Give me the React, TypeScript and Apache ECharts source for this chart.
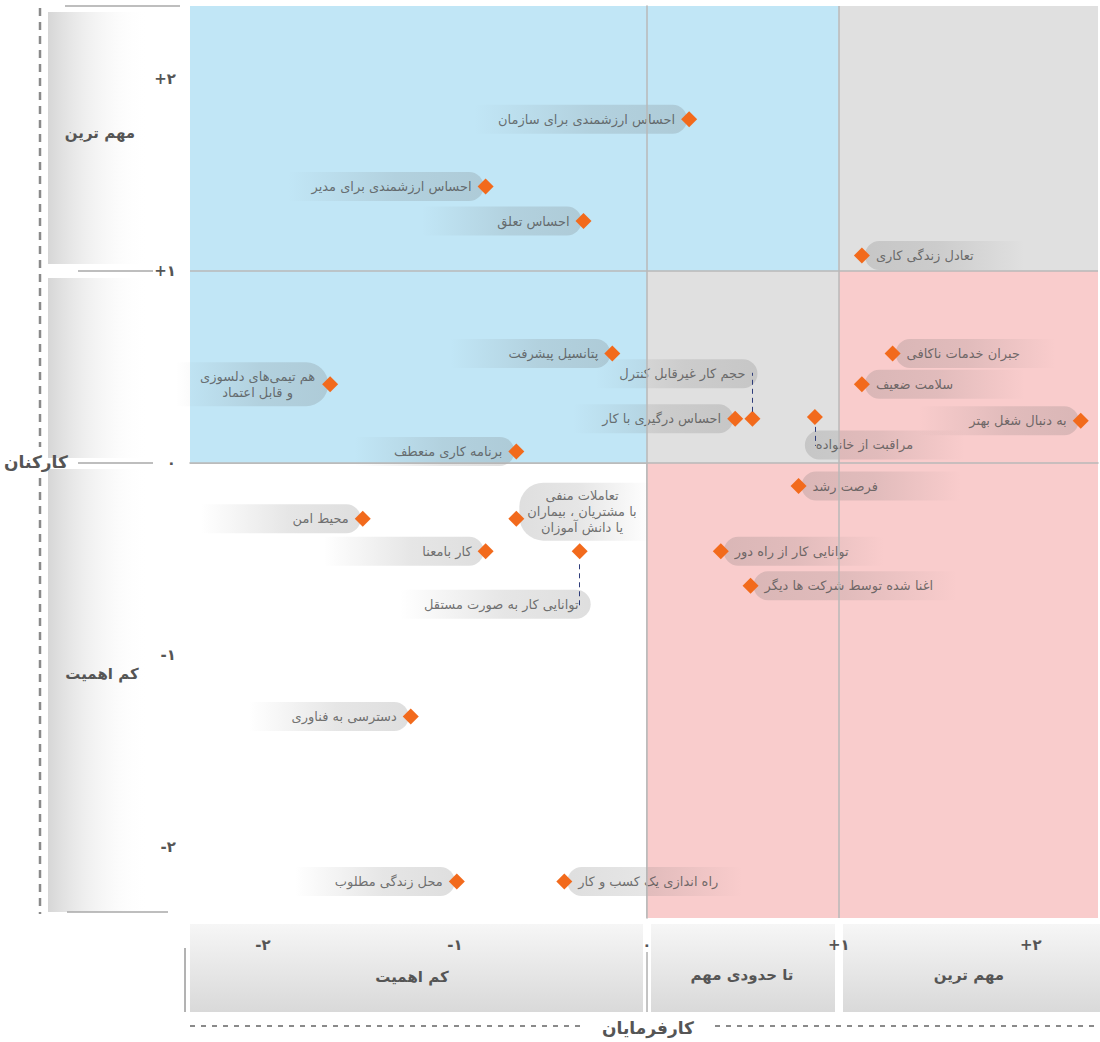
import React, { useEffect, useRef } from 'react';
import * as echarts from 'echarts';

// ---------- data ----------
const X_MIN = -2.38;
const X_MAX = 2.35;
const Y_MIN = -2.37;
const Y_MAX = 2.38;

const TICK_VALUES = [-2, -1, 0, 1, 2];
const TICK_LABELS = ['-۲', '-۱', '۰', '+۱', '+۲'];

const EMPLOYER_CATEGORIES = ['کم اهمیت', 'تا حدودی مهم', 'مهم ترین'];
const EMPLOYEE_CATEGORIES = ['مهم ترین', 'کم اهمیت'];
const X_AXIS_TITLE = 'کارفرمایان';
const Y_AXIS_TITLE = 'کارکنان';

const FACTORS = [
  'احساس ارزشمندی برای سازمان',
  'احساس ارزشمندی برای مدیر',
  'احساس تعلق',
  'تعادل زندگی کاری',
  'پتانسیل پیشرفت',
  'هم تیمی‌های دلسوزی\nو قابل اعتماد',
  'حجم کار غیرقابل کنترل',
  'احساس درگیری با کار',
  'مراقبت از خانواده',
  'جبران خدمات ناکافی',
  'سلامت ضعیف',
  'به دنبال شغل بهتر',
  'برنامه کاری منعطف',
  'فرصت رشد',
  'محیط امن',
  'تعاملات منفی\nبا مشتریان ، بیماران\nیا دانش آموزان',
  'کار بامعنا',
  'توانایی کار به صورت مستقل',
  'توانایی کار از راه دور',
  'اغنا شده توسط شرکت ها دیگر',
  'دسترسی به فناوری',
  'محل زندگی مطلوب',
  'راه اندازی یک کسب و کار',
];

// importance for employers (x)
const EMPLOYER_SCORES = [
  0.22, -0.84, -0.33, 1.12, -0.18, -1.65, 0.55, 0.46, 0.875, 1.28, 1.12, 2.26,
  -0.68, 0.79, -1.48, -0.68, -0.84, -0.35, 0.385, 0.54, -1.23, -0.99, -0.43,
];
// importance for employees (y)
const EMPLOYEE_SCORES = [
  1.79, 1.44, 1.26, 1.08, 0.57, 0.41, 0.23, 0.23, 0.24, 0.57, 0.41, 0.22,
  0.06, -0.12, -0.29, -0.29, -0.46, -0.46, -0.46, -0.64, -1.32, -2.18, -2.18,
];

// ---------- layout / style ----------
const FONT = '"DejaVu Sans", "Noto Sans", sans-serif';
const LABEL_SIZE = 13;
const TEXT_COLOR = '#505050';
const DIAMOND = '#f26a1c';
const MIN_PILL = 160;

type Layout = { side: 'L' | 'R'; dx?: number; dy?: number; link?: [number, number]; pad?: number[] };
const LABEL_LAYOUT: Record<string, Layout> = {
  'تعادل زندگی کاری': { side: 'R' },
  'مراقبت از خانواده': { side: 'R', dx: -13, dy: 28, link: [10, 29] },
  'جبران خدمات ناکافی': { side: 'R' },
  'سلامت ضعیف': { side: 'R' },
  'فرصت رشد': { side: 'R' },
  'تعاملات منفی\nبا مشتریان ، بیماران\nیا دانش آموزان': { side: 'R', dy: -7, pad: [5, 14, 5, 8] },
  'توانایی کار از راه دور': { side: 'R' },
  'اغنا شده توسط شرکت ها دیگر': { side: 'R' },
  'راه اندازی یک کسب و کار': { side: 'R' },
  'حجم کار غیرقابل کنترل': { side: 'L', dx: 7, dy: -45, link: [-7, -46] },
  'توانایی کار به صورت مستقل': { side: 'L', dx: 13, dy: 53, link: [13, 56] },
  'هم تیمی‌های دلسوزی\nو قابل اعتماد': { side: 'L', pad: [6, 13, 6, 24] },
};

const W = 1100;
const H = 1042;
const GRID = { left: 190, right: 2, top: 6, bottom: 124 };

export default function App() {
  const ref = useRef<HTMLDivElement>(null);

  useEffect(() => {
    document.body.style.margin = '0';
    const chart = echarts.init(ref.current!, null, { renderer: 'svg' });

    const ctx = document.createElement('canvas').getContext('2d')!;
    ctx.font = `${LABEL_SIZE}px ${FONT}`;
    const tw = (s: string) => ctx.measureText(s).width;

    const unitY = (H - GRID.top - GRID.bottom) / (Y_MAX - Y_MIN);
    const G = echarts.graphic.LinearGradient;
    const pillL = () =>
      new G(0, 0, 1, 0, [
        { offset: 0, color: 'rgba(105,105,105,0)' },
        { offset: 0.55, color: 'rgba(105,105,105,0.21)' },
        { offset: 1, color: 'rgba(105,105,105,0.27)' },
      ]);
    const pillR = () =>
      new G(0, 0, 1, 0, [
        { offset: 0, color: 'rgba(105,105,105,0.27)' },
        { offset: 0.45, color: 'rgba(105,105,105,0.21)' },
        { offset: 1, color: 'rgba(105,105,105,0)' },
      ]);

    const labelData = FACTORS.map((name, i) => {
      const lay = LABEL_LAYOUT[name] || { side: 'L' };
      const lines = name.split('\n');
      const multi = lines.length > 1;
      const textW = Math.max(...lines.map(tw));
      const isL = lay.side === 'L';
      let padding: number[];
      if (lay.pad) padding = lay.pad;
      else if (isL) padding = [6, 12, 6, Math.max(MIN_PILL - textW - 12, 24)];
      else padding = [6, Math.max(MIN_PILL - textW - 11, 24), 6, 11];
      const r = multi ? 24 : 15;
      return {
        name,
        value: [EMPLOYER_SCORES[i], EMPLOYEE_SCORES[i]],
        label: {
          show: true,
          position: isL ? 'left' : 'right',
          distance: 0,
          offset: [(isL ? 6 : -5) + (lay.dx || 0), lay.dy || 0],
          formatter: multi ? lines.map((l) => `{c|${l}}`).join('\n') : name,
          rich: multi
            ? { c: { align: 'center', fontSize: LABEL_SIZE, lineHeight: 16, color: TEXT_COLOR, fontFamily: FONT } }
            : undefined,
          color: TEXT_COLOR,
          fontSize: LABEL_SIZE,
          fontFamily: FONT,
          lineHeight: 17,
          padding,
          backgroundColor: isL ? pillL() : pillR(),
          borderRadius: isL ? [0, r, r, 0] : [r, 0, 0, r],
        },
      };
    });

    const points = FACTORS.map((name, i) => ({ name, value: [EMPLOYER_SCORES[i], EMPLOYEE_SCORES[i]] }));

    const links: any[] = [];
    FACTORS.forEach((name, i) => {
      const lay = LABEL_LAYOUT[name];
      if (lay && lay.link) {
        const x = EMPLOYER_SCORES[i];
        const y = EMPLOYEE_SCORES[i];
        links.push([
          { coord: [x, y - lay.link[0] / unitY] },
          { coord: [x, y - lay.link[1] / unitY] },
        ]);
      }
    });

    const tickFmt = (v: number) => {
      const k = TICK_VALUES.indexOf(Math.round(v));
      return k >= 0 ? TICK_LABELS[k] : '';
    };

    const BLUE = '#c1e6f6';
    const GRAY = '#e0e0e0';
    const PINK = '#f9cccc';

    const leftBox = () =>
      new G(0, 0, 1, 0, [
        { offset: 0, color: '#d6d6d6' },
        { offset: 1, color: 'rgba(255,255,255,0)' },
      ]);
    const bottomBox = () =>
      new G(0, 0, 0, 1, [
        { offset: 0, color: '#f6f6f6' },
        { offset: 1, color: '#d9d9d9' },
      ]);

    const boldText = (x: number, y: number, text: string, size: number) => ({
      type: 'text',
      x,
      y,
      style: {
        text,
        fill: '#555',
        font: `bold ${size}px ${FONT}`,
        textAlign: 'center',
        textVerticalAlign: 'middle',
        align: 'center',
        verticalAlign: 'middle',
      },
      z: 5,
    });
    const hline = (x1: number, x2: number, y: number, color = '#a8a8a8', w = 1.5, dash?: number[]) => ({
      type: 'line',
      shape: { x1, y1: y, x2, y2: y },
      style: { stroke: color, lineWidth: w, lineDash: dash },
      z: 1,
    });
    const vline = (x: number, y1: number, y2: number, color = '#777', w = 1, dash?: number[]) => ({
      type: 'line',
      shape: { x1: x, y1, x2: x, y2 },
      style: { stroke: color, lineWidth: w, lineDash: dash },
      z: 1,
    });
    const rect = (x: number, y: number, w: number, h: number, fill: any) => ({
      type: 'rect',
      shape: { x, y, width: w, height: h },
      style: { fill },
      z: -1,
    });

    const graphic: any[] = [
      // left (employees) side
      rect(48, 12, 100, 252, leftBox()),
      rect(48, 278, 100, 180, leftBox()),
      rect(48, 469, 100, 443, leftBox()),
      vline(40, 8, 447, '#8a8a8a', 2.5, [8, 6]),
      vline(40, 478, 914, '#8a8a8a', 2.5, [8, 6]),
      hline(65, 180, 6),
      hline(78, 153, 271),
      hline(78, 153, 463),
      hline(67, 168, 912),
      boldText(100, 133, EMPLOYEE_CATEGORIES[0], 15),
      boldText(102, 674, EMPLOYEE_CATEGORIES[1], 15),
      boldText(36, 462, Y_AXIS_TITLE, 17),
      // bottom (employers) side
      rect(190, 924, 453, 88, bottomBox()),
      rect(651, 924, 184, 88, bottomBox()),
      rect(843, 924, 257, 88, bottomBox()),
      vline(185, 948, 1012, '#666', 1),
      vline(647, 952, 1012, '#888', 1),
      boldText(412, 977, EMPLOYER_CATEGORIES[0], 15),
      boldText(742, 975, EMPLOYER_CATEGORIES[1], 15),
      boldText(969, 975, EMPLOYER_CATEGORIES[2], 15),
      hline(190, 580, 1026, '#8a8a8a', 2, [5, 6]),
      hline(715, 1100, 1026, '#8a8a8a', 2, [5, 6]),
      boldText(648, 1028, X_AXIS_TITLE, 17),
    ];

    chart.setOption({
      animation: false,
      grid: { ...GRID, outerBoundsMode: 'none' },
      xAxis: {
        type: 'value',
        min: X_MIN,
        max: X_MAX,
        axisLine: { show: true, lineStyle: { color: '#b0b0b0', width: 1.5 } },
        axisTick: { show: false },
        splitLine: { show: false },
        axisLabel: {
          customValues: TICK_VALUES,
          formatter: tickFmt,
          margin: 19,
          fontSize: 15,
          fontWeight: 'bold',
          color: '#555',
          fontFamily: FONT,
        },
      },
      yAxis: {
        type: 'value',
        min: Y_MIN,
        max: Y_MAX,
        axisLine: { show: true, lineStyle: { color: '#b0b0b0', width: 1.5 } },
        axisTick: { show: false },
        splitLine: { show: false },
        axisLabel: {
          customValues: TICK_VALUES,
          formatter: tickFmt,
          margin: 14,
          fontSize: 15,
          fontWeight: 'bold',
          color: '#555',
          fontFamily: FONT,
        },
      },
      graphic,
      series: [
        {
          type: 'scatter',
          data: [],
          z: -2,
          silent: true,
          markArea: {
            silent: true,
            data: [
              [{ coord: [X_MIN, 1], itemStyle: { color: BLUE } }, { coord: [1, Y_MAX] }],
              [{ coord: [X_MIN, 0], itemStyle: { color: BLUE } }, { coord: [0, 1] }],
              [{ coord: [1, 1], itemStyle: { color: GRAY } }, { coord: [X_MAX, Y_MAX] }],
              [{ coord: [0, 0], itemStyle: { color: GRAY } }, { coord: [1, 1] }],
              [{ coord: [1, 0], itemStyle: { color: PINK } }, { coord: [X_MAX, 1] }],
              [{ coord: [0, Y_MIN], itemStyle: { color: PINK } }, { coord: [X_MAX, 0] }],
            ],
          },
        },
        {
          type: 'scatter',
          data: [],
          z: -1,
          silent: true,
          markLine: {
            silent: true,
            symbol: ['none', 'none'],
            label: { show: false },
            lineStyle: { color: '#b8b8b8', width: 1.5, type: 'solid' },
            data: [{ xAxis: 0 }, { xAxis: 1 }, { yAxis: 0 }, { yAxis: 1 }],
          },
        },
        {
          type: 'scatter',
          z: 2,
          silent: true,
          symbol: 'diamond',
          symbolSize: 16,
          itemStyle: { color: 'rgba(0,0,0,0)' },
          emphasis: { disabled: true },
          data: labelData,
        },
        {
          type: 'scatter',
          z: 3,
          silent: true,
          symbol: 'diamond',
          symbolSize: 16,
          itemStyle: { color: DIAMOND, opacity: 1 },
          emphasis: { disabled: true },
          data: points,
          markLine: {
            silent: true,
            symbol: ['none', 'none'],
            label: { show: false },
            lineStyle: { color: '#2f3d7a', width: 1, type: [5, 4] },
            data: links,
          },
        },
      ],
    });

    return () => chart.dispose();
  }, []);

  return <div ref={ref} style={{ width: W, height: H }} />;
}
